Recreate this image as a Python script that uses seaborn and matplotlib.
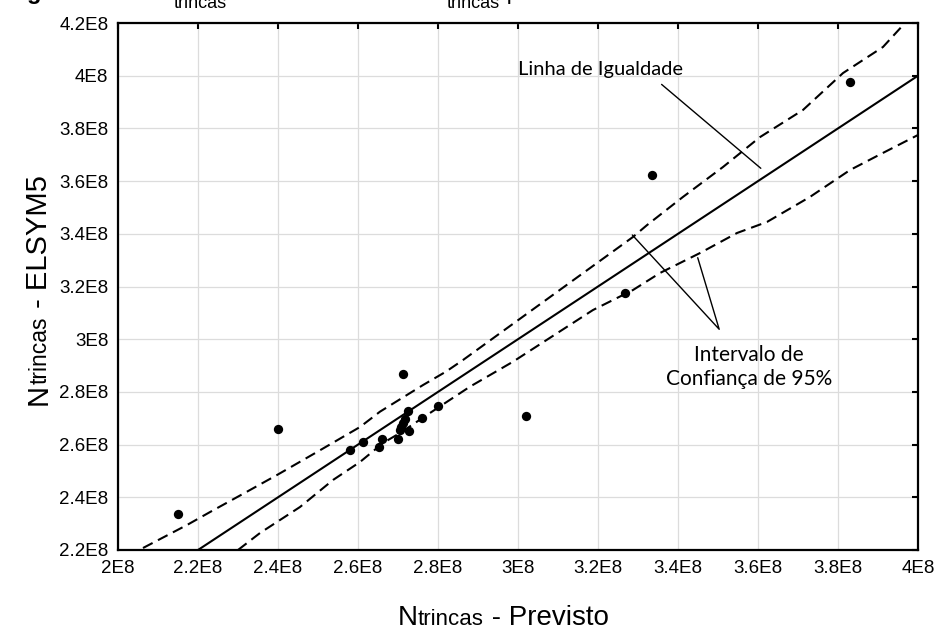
import matplotlib
matplotlib.use("Agg")
import matplotlib.pyplot as plt
import matplotlib.ticker as mticker
from matplotlib.transforms import IdentityTransform
import seaborn as sns
import pandas as pd

# ---------------- data ----------------
previsto = [2.15e8, 2.40e8, 2.579e8, 2.613e8, 2.659e8, 2.653e8, 2.700e8, 2.705e8,
            2.708e8, 2.712e8, 2.7175e8, 2.726e8, 2.727e8, 2.759e8, 2.800e8, 2.713e8,
            3.02e8, 3.2675e8, 3.335e8, 3.83e8]
elsym5 = [2.335e8, 2.659e8, 2.581e8, 2.610e8, 2.620e8, 2.591e8, 2.620e8, 2.657e8,
          2.668e8, 2.682e8, 2.698e8, 2.728e8, 2.651e8, 2.700e8, 2.748e8, 2.867e8,
          2.710e8, 3.175e8, 3.623e8, 3.977e8]

equal_x = [2.0e8, 4.0e8]
equal_y = [2.0e8, 4.0e8]

upper_x = [2.0625e8, 2.1725e8, 2.23e8, 2.33e8, 2.3975e8, 2.4975e8, 2.605e8, 2.655e8,
           2.7625e8, 2.82e8, 2.8625e8, 3.08e8, 3.2875e8, 3.3225e8, 3.4125e8, 3.5125e8,
           3.605e8, 3.7125e8, 3.8125e8, 3.9125e8, 3.9675e8]
upper_y = [2.2076e8, 2.2949e8, 2.344e8, 2.4277e8, 2.4846e8, 2.5719e8, 2.6668e8, 2.725e8,
           2.826e8, 2.877e8, 2.921e8, 3.160e8, 3.388e8, 3.433e8, 3.540e8, 3.6535e8,
           3.767e8, 3.870e8, 4.010e8, 4.109e8, 4.2e8]

lower_x = [2.30e8, 2.355e8, 2.455e8, 2.5375e8, 2.605e8, 2.6625e8, 2.705e8, 2.78e8,
           2.88e8, 2.93e8, 2.9875e8, 3.1875e8, 3.2875e8, 3.355e8, 3.455e8, 3.5475e8,
           3.6225e8, 3.73e8, 3.83e8, 3.9125e8, 4.0e8]
lower_y = [2.20e8, 2.2645e8, 2.3632e8, 2.4657e8, 2.534e8, 2.606e8, 2.644e8, 2.72e8,
           2.82e8, 2.864e8, 2.9146e8, 3.1108e8, 3.1867e8, 3.2513e8, 3.327e8, 3.403e8,
           3.445e8, 3.540e8, 3.642e8, 3.707e8, 3.775e8]

x_ticks = [2.0e8, 2.2e8, 2.4e8, 2.6e8, 2.8e8, 3.0e8, 3.2e8, 3.4e8, 3.6e8, 3.8e8, 4.0e8]
y_ticks = [2.2e8, 2.4e8, 2.6e8, 2.8e8, 3.0e8, 3.2e8, 3.4e8, 3.6e8, 3.8e8, 4.0e8, 4.2e8]

label_eq = "Linha de Igualdade"
label_ci = "Intervalo de\nConfiança de 95%"

# ---------------- style ----------------
sns.set_style("white")
plt.rcParams["font.family"] = ["Liberation Sans", "DejaVu Sans"]
ann_font = ["Lato", "DejaVu Sans"]

fig = plt.figure(figsize=(9.38, 6.32), dpi=100)
W, H = 938, 632
ax = fig.add_axes([118 / W, 1 - 550 / H, 800 / W, 527 / H])

df_pts = pd.DataFrame({"x": previsto, "y": elsym5})
df_eq = pd.DataFrame({"x": equal_x, "y": equal_y})
df_up = pd.DataFrame({"x": upper_x, "y": upper_y})
df_lo = pd.DataFrame({"x": lower_x, "y": lower_y})

sns.lineplot(data=df_eq, x="x", y="y", ax=ax, color="black", lw=1.5, sort=False, zorder=3)
for d in (df_up, df_lo):
    sns.lineplot(data=d, x="x", y="y", ax=ax, color="black", lw=1.5, sort=False,
                 dashes=False, zorder=3).lines[-1].set_dashes((5.2, 2.9))
sns.scatterplot(data=df_pts, x="x", y="y", ax=ax, color="black", s=45,
                linewidth=0, zorder=5)

ax.set_xlim(2.0e8, 4.0e8)
ax.set_ylim(2.2e8, 4.2e8)
ax.set_xticks(x_ticks)
ax.set_yticks(y_ticks)
fmt = mticker.FuncFormatter(lambda v, p: f"{v / 1e8:g}E8")
ax.xaxis.set_major_formatter(fmt)
ax.yaxis.set_major_formatter(fmt)
ax.set_xlabel("")
ax.set_ylabel("")
ax.grid(True, color="#dcdcdc", lw=0.9, zorder=0)
ax.set_axisbelow(True)
for sp in ax.spines.values():
    sp.set_visible(True)
    sp.set_color("black")
    sp.set_linewidth(1.6)
ax.tick_params(axis="both", which="major", direction="in", length=4, width=1.5,
               labelsize=13.5, colors="black", top=True, right=True, pad=7)

# annotations
ax.text(3.2075e8, 4.0027e8, label_eq, ha="center", va="baseline", fontsize=14.5,
        family=ann_font, color="black")
ax.plot([3.359e8, 3.607e8], [3.967e8, 3.6486e8], color="black", lw=1.0, zorder=4)
ax.text(3.5775e8, 2.8945e8, label_ci, ha="center", va="center", fontsize=15,
        family=ann_font, color="black", linespacing=1.3)
ax.plot([3.2858e8, 3.503e8, 3.4493e8], [3.3954e8, 3.0376e8, 3.3093e8],
        color="black", lw=1.0, zorder=4)

# ---------------- composite labels ----------------
renderer = fig.canvas.get_renderer()


def place(pieces, x, y, rotation=0, anchor_index=None, anchor_pos=None):
    texts = []
    for s, size, weight, dy in pieces:
        t = fig.text(0, 0, s, fontsize=size, fontweight=weight, rotation=rotation,
                     rotation_mode="anchor", ha="left", va="baseline",
                     transform=IdentityTransform(), color="black")
        texts.append((t, dy))
    lens = []
    for t, _ in texts:
        bb = t.get_window_extent(renderer)
        lens.append(bb.height if rotation == 90 else bb.width)
    offs = [sum(lens[:i]) for i in range(len(lens))]
    total = sum(lens)
    if anchor_index is not None:
        start = anchor_pos - offs[anchor_index]
    else:
        start = (y if rotation == 90 else x) - total / 2
    for (t, dy), o in zip(texts, offs):
        if rotation == 90:
            t.set_position((x + dy, start + o))
        else:
            t.set_position((start + o, y + dy))
    return texts


# x label
place([("N", 20, "normal", 0), ("trincas", 16, "normal", 0),
       (" - Previsto", 20, "normal", 0)],
      503, H - 625, rotation=0)
# y label
place([("N", 21, "normal", 0), ("trincas", 16.5, "normal", 0),
       (" - ELSYM5", 21, "normal", 0)],
      47, H - 290, rotation=90)
# clipped title at the top of the page (only its lowest pixels are visible)
place([("Figura 4.18 – ", 17, "bold", 0), ("N", 17, "normal", 0),
       ("trincas", 13, "normal", -9), (" – ELSYM5 versus ", 17, "normal", 0),
       ("N", 17, "normal", 0), ("trincas", 13, "normal", -9),
       (" previsto", 17, "normal", 0)],
      0, H + 1, rotation=0, anchor_index=2, anchor_pos=174)

fig.savefig("out.png", dpi=100)
